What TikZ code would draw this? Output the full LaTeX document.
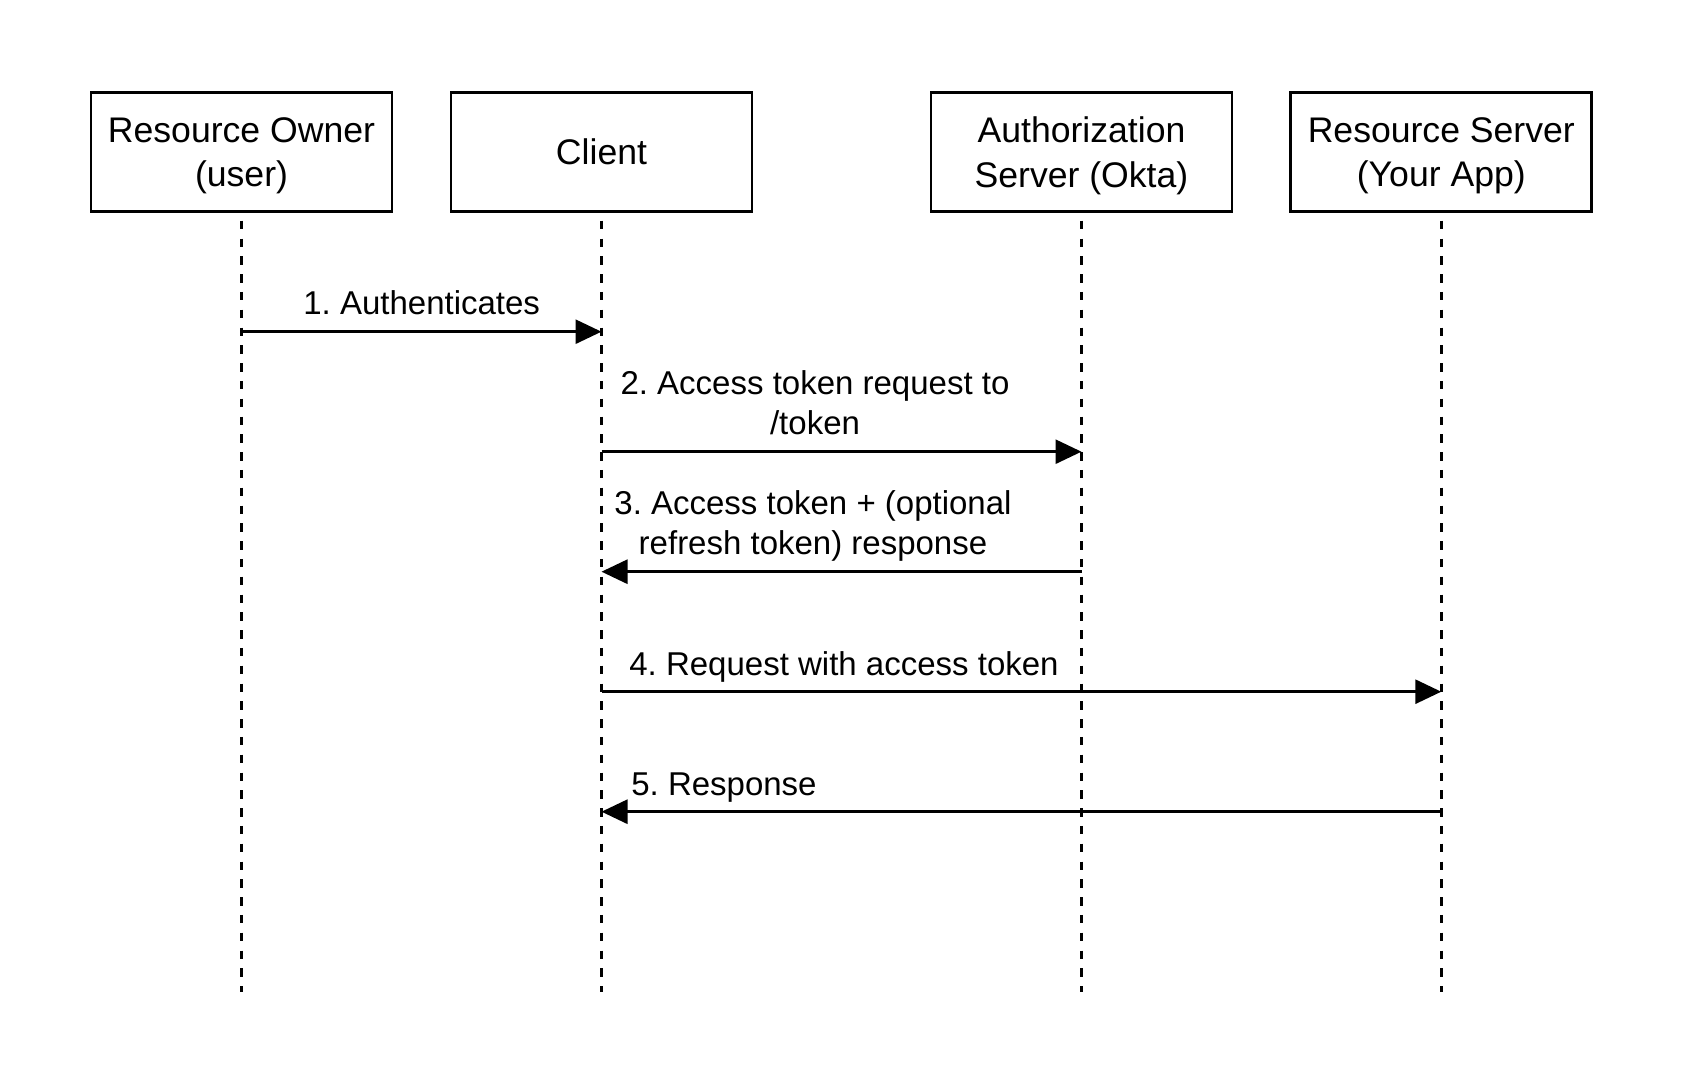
\documentclass[tikz,border=0pt]{standalone}
\usepackage{fontspec}
\setmainfont{Liberation Sans}
\usepackage{tikz}
\usetikzlibrary{positioning,calc,arrows.meta}
\frenchspacing

\begin{document}
\begin{tikzpicture}[x=0.5pt,y=-0.5pt,
    actor/.style={draw, line width=1.4pt, minimum width=150.5pt, minimum height=59.5pt, inner sep=0pt, align=center, text depth=0pt, font=\fontsize{17.8}{22.2}\selectfont},
    lifeline/.style={line width=1.3pt, dash pattern=on 4.2pt off 4.7pt, dash phase=5pt},
    msg/.style={line width=1.4pt, -{Triangle[length=13pt,width=12pt]}},
    msglabel/.style={anchor=base, align=center, font=\fontsize{16.5}{19.9}\selectfont}]
    \useasboundingbox (0,0) rectangle (1683,1083);

    % Participants
    \node[actor] (owner) at (241.5,152) {Resource Owner\\(user)};
    \node[actor] (client) at (601.5,152) {Client};
    \node[actor] (authsrv) at (1081.5,152) {Authorization\\Server (Okta)};
    \node[actor] (ressrv) at (1441.3,152) {Resource Server\\(Your App)};

    % Lifelines
    \coordinate (bottom) at (0,992);
    \foreach \p in {owner,client,authsrv,ressrv}
        \draw[lifeline] (\p.south) -- (\p |- bottom);

    % Messages
    \coordinate (m1) at (0,331.7);
    \coordinate (m2) at (0,451.7);
    \coordinate (m3) at (0,571.7);
    \coordinate (m4) at (0,691.7);
    \coordinate (m5) at (0,811.7);

    \draw[msg] (owner |- m1) -- (client |- m1);
    \node[msglabel] (lab1) at (421.7,314.3) {1. Authenticates};

    \draw[msg] (client |- m2) -- (authsrv |- m2);
    \node[msglabel] (lab2) at (815,434) {2. Access token request to\\/token};

    \draw[msg] (authsrv |- m3) -- (client |- m3);
    \node[msglabel] (lab3) at (813,554.3) {3. Access token + (optional\\refresh token) response};

    \draw[msg] (client |- m4) -- (ressrv |- m4);
    \node[msglabel] (lab4) at (844,675) {4. Request with access token};

    \draw[msg] (ressrv |- m5) -- (client |- m5);
    \node[msglabel] (lab5) at (724,795) {5. Response};

\end{tikzpicture}
\end{document}
